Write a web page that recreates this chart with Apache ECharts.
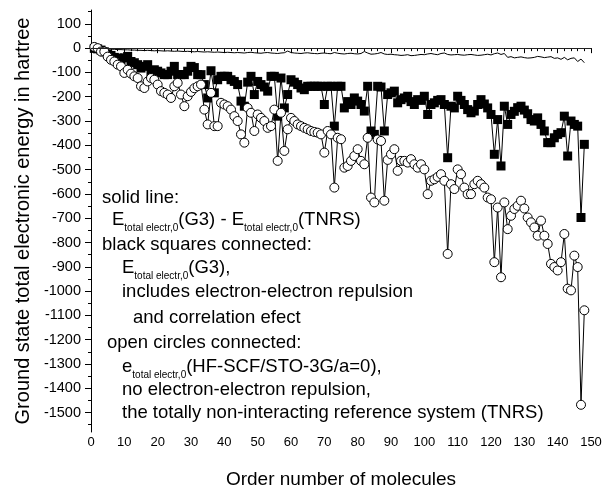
<!DOCTYPE html>
<html>
<head>
<meta charset="utf-8">
<script src="https://cdn.jsdelivr.net/npm/echarts@6/dist/echarts.min.js"></script>
<style>
  html, body { margin: 0; padding: 0; background: #fff; }
  #chart { width: 607px; height: 494px; }
</style>
</head>
<body>
<div id="chart"></div>
<script>
// E total electr,0 (G3), black squares, molecule 1..148
var g3 = [
  -1, -3, -8, -15, -25, -30, -38, -41, -48, -40,
  -34, -55, -60, -68, -82, -75, -68, -102, -89, -95,
  -102, -109, -109, -95, -75, -109, -109, -109, -95, -75,
  -80, -109, -109, -150, -205, -93, -184, -130, -116, -116,
  -116, -130, -137, -150, -218, -239, -140, -116, -191, -137,
  -150, -160, -177, -116, -116, -280, -123, -246, -191, -130,
  -140, -150, -164, -171, -157, -157, -157, -157, -157, -232,
  -157, -157, -321, -157, -157, -246, -220, -232, -205, -218,
  -232, -259, -157, -341, -355, -157, -160, -341, -191, -184,
  -177, -225, -212, -205, -198, -220, -232, -212, -215, -198,
  -273, -232, -225, -215, -212, -232, -451, -239, -246, -198,
  -215, -232, -253, -266, -259, -232, -212, -230, -246, -273,
  -437, -294, -485, -239, -314, -273, -260, -245, -239, -255,
  -270, -294, -300, -287, -314, -341, -389, -389, -369, -355,
  -348, -280, -444, -300, -314, -321, -697, -396
];
// e total electr,0 (HF-SCF/STO-3G/a=0), open circles
var tnrs = [
  5, 0, -14, -14, -35, -48, -55, -68, -75, -102,
  -89, -105, -116, -123, -157, -164, -137, -123, -130, -150,
  -177, -184, -191, -205, -157, -143, -191, -239, -198, -180,
  -165, -157, -150, -253, -314, -184, -321, -321, -225, -232,
  -239, -253, -280, -300, -355, -389, -246, -266, -341, -273,
  -287, -300, -328, -321, -253, -464, -266, -423, -334, -287,
  -300, -314, -321, -328, -334, -341, -345, -348, -355, -430,
  -341, -355, -574, -369, -375, -492, -485, -464, -444, -416,
  -464, -478, -369, -615, -635, -376, -382, -628, -460, -437,
  -416, -505, -464, -464, -471, -457, -478, -492, -478, -499,
  -601, -546, -540, -530, -519, -546, -847, -560, -580, -499,
  -519, -574, -601, -601, -560, -546, -560, -574, -615, -622,
  -881, -656, -943, -635, -745, -690, -662, -649, -628, -660,
  -697, -717, -738, -772, -710, -772, -806, -888, -901, -915,
  -881, -765, -990, -997, -854, -901, -1468, -1079
];
// solid line: E(G3) - E(TNRS)
var diff = [
  0, -1, -2, -3, -4, -4, -5, -6, -6, -7,
  -7, -8, -8, -9, -9, -10, -9, -10, -11, -10,
  -11, -12, -11, -12, -13, -12, -13, -14, -13, -14,
  -15, -14, -15, -16, -15, -16, -17, -16, -17, -18,
  -17, -18, -19, -18, -19, -20, -18, -17, -19, -20,
  -21, -19, -18, -20, -21, -22, -20, -19, -12, -18,
  -20, -21, -22, -20, -19, -21, -22, -23, -21, -20,
  -22, -23, -18, -21, -23, -24, -22, -21, -23, -24,
  -22, -14, -20, -25, -24, -22, -18, -24, -26, -25,
  -27, -28, -30, -29, -27, -31, -30, -28, -26, -27,
  -24, -22, -25, -27, -22, -20, -26, -28, -27, -26,
  -28, -29, -27, -26, -28, -30, -29, -27, -25, -28,
  -23, -20, -26, -22, -38, -35, -40, -38, -36, -39,
  -41, -40, -38, -34, -36, -39, -37, -35, -42, -40,
  -46, -38, -48, -42, -40, -55, -45, -60
];
var yTicks = [100, 0, -100, -200, -300, -400, -500, -600, -700, -800,
  -900, -1000, -1100, -1200, -1300, -1400, -1500];
var yMinorTicks = [150, 50, -50, -150, -250, -350, -450, -550, -650, -750, -850,
  -950, -1050, -1150, -1250, -1350, -1450, -1550];

var notes = [
  "{m|solid line:}",
  "{m|E}{s|total electr,0}{m|(G3) - E}{s|total electr,0}{m|(TNRS)}",
  "{m|black squares connected:}",
  "{m|E}{s|total electr,0}{m|(G3),}",
  "{m|includes electron-electron repulsion}",
  "{m|and correlation efect}",
  "{m|open circles connected:}",
  "{m|e}{s|total electr,0}{m|(HF-SCF/STO-3G/a=0),}",
  "{m|no electron-electron repulsion,}",
  "{m|the totally non-interacting reference system (TNRS)}"
];
var noteX = [102, 112, 102, 122, 122, 133, 107, 122, 122, 122];
var noteY = [198, 220, 245, 268, 292, 318, 343, 367, 390, 413];

function pts(arr) {
  return arr.map(function (v, i) { return [i + 1, v]; });
}

var font = "Liberation Sans, Arial, sans-serif";
var chart = echarts.init(document.getElementById("chart"));

var option = {
  animation: false,
  backgroundColor: "#fff",
  grid: { left: 91, right: 16, top: 10, bottom: 58 },
  xAxis: {
    type: "value",
    min: 0,
    max: 150,
    interval: 10,
    name: "Order number of molecules",
    nameLocation: "middle",
    nameGap: 38,
    nameTextStyle: { fontFamily: font, fontSize: 19, color: "#000" },
    axisLine: { lineStyle: { color: "#000", width: 1 } },
    axisTick: { length: 5, lineStyle: { color: "#000" } },
    minorTick: { show: true, splitNumber: 5, length: 3, lineStyle: { color: "#000" } },
    axisLabel: { fontFamily: font, fontSize: 13, color: "#000", margin: 4 },
    splitLine: { show: false }
  },
  yAxis: [
    {
      type: "value",
      min: -1580,
      max: 157,
      name: "Ground state total electronic energy in hartree",
      nameLocation: "middle",
      nameGap: 52,
      nameTextStyle: { fontFamily: font, fontSize: 20, color: "#000" },
      axisLine: { show: true, lineStyle: { color: "#000", width: 1 } },
      axisTick: { show: true, length: 6, customValues: yTicks, lineStyle: { color: "#000" } },
      axisLabel: {
        fontFamily: font, fontSize: 14.5, color: "#000", margin: 10,
        customValues: yTicks, padding: [10, 0, 0, 0],
        formatter: function (v) { return String(v); }
      },
      splitLine: { show: false }
    },
    {
      type: "value",
      min: -1580,
      max: 157,
      position: "left",
      axisLine: { show: false },
      axisTick: { show: true, length: 3, customValues: yMinorTicks, lineStyle: { color: "#000" } },
      axisLabel: { show: false, customValues: yMinorTicks },
      splitLine: { show: false }
    }
  ],
  series: [
    {
      name: "diff",
      type: "line",
      data: pts(diff),
      symbol: "none",
      lineStyle: { color: "#000", width: 1 },
      markLine: {
        silent: true,
        symbol: ["none", "none"],
        label: { show: false },
        lineStyle: { color: "#222", type: "solid", width: 1 },
        data: [{ yAxis: 0 }]
      }
    },
    {
      name: "G3",
      type: "line",
      data: pts(g3),
      symbol: "rect",
      symbolSize: 9,
      showAllSymbol: true,
      itemStyle: { color: "#000" },
      lineStyle: { color: "#000", width: 1 }
    },
    {
      name: "TNRS",
      type: "line",
      data: pts(tnrs),
      symbol: "circle",
      symbolSize: 9,
      showAllSymbol: true,
      itemStyle: { color: "#fff", borderColor: "#000", borderWidth: 1 },
      lineStyle: { color: "#000", width: 1 }
    }
  ],
  graphic: notes.map(function (t, i) {
    return {
      type: "text",
      x: noteX[i],
      y: noteY[i],
      z: 100,
      style: {
        text: t,
        verticalAlign: "middle",
        fill: "#000",
        rich: {
          m: { fontFamily: font, fontSize: 18.5, lineHeight: 26, fill: "#000", color: "#000" },
          s: { fontFamily: font, fontSize: 10, lineHeight: 10, verticalAlign: "bottom", fill: "#000", color: "#000" }
        }
      }
    };
  })
};

chart.setOption(option);
</script>
</body>
</html>
